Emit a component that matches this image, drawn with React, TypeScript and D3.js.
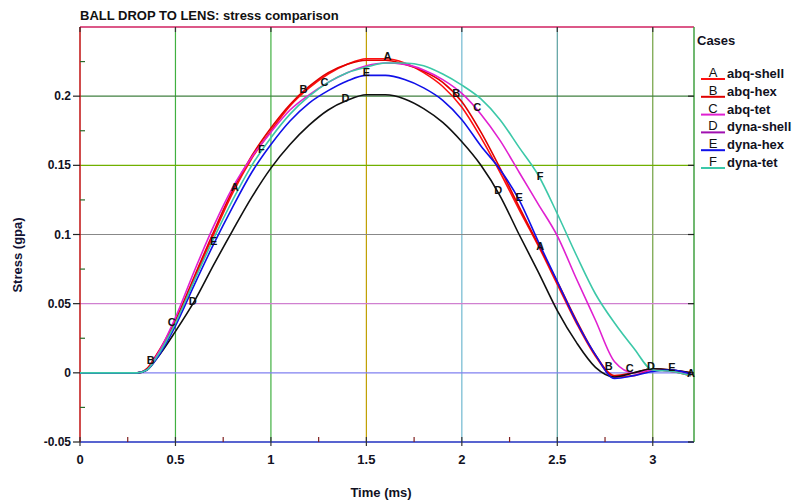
import React from "react";
import * as d3 from "d3";

const times = [0, 0.3, 0.35, 0.4, 0.5, 0.6, 0.7, 0.8, 0.9, 1.0, 1.1, 1.2, 1.3, 1.4, 1.5, 1.6, 1.7, 1.8, 1.9, 2.0, 2.1, 2.2, 2.3, 2.4, 2.5, 2.6, 2.7, 2.8, 2.9, 3.0, 3.1, 3.2];

const seriesNames = ["abq-shell", "abq-hex", "abq-tet", "dyna-shell", "dyna-hex", "dyna-tet"];
const seriesLetters = ["A", "B", "C", "D", "E", "F"];
const seriesColors = ["#ff1010", "#e00000", "#e020d0", "#101010", "#1010e8", "#3cc8a8"];
const legendColors = ["#ff1010", "#e00000", "#e020d0", "#a010b0", "#1010e8", "#3cc8a8"];

const valuesA = [0, 0, 0.002, 0.012, 0.036, 0.068, 0.1, 0.13, 0.155, 0.175, 0.193, 0.206, 0.216, 0.223, 0.227, 0.227, 0.224, 0.217, 0.207, 0.192, 0.17, 0.145, 0.118, 0.092, 0.064, 0.036, 0.012, -0.003, -0.002, 0.002, 0.001, -0.002];
const valuesB = [0, 0, 0.003, 0.013, 0.038, 0.07, 0.102, 0.132, 0.157, 0.177, 0.194, 0.207, 0.217, 0.223, 0.226, 0.226, 0.223, 0.218, 0.21, 0.196, 0.174, 0.148, 0.12, 0.093, 0.066, 0.038, 0.013, -0.002, 0, 0.003, 0.002, 0];
const valuesC = [0, 0, 0.002, 0.012, 0.04, 0.074, 0.106, 0.134, 0.156, 0.174, 0.19, 0.201, 0.21, 0.217, 0.222, 0.224, 0.223, 0.219, 0.212, 0.202, 0.187, 0.168, 0.145, 0.122, 0.099, 0.068, 0.038, 0.008, 0, 0.002, 0.001, -0.001];
const valuesD = [0, 0, 0.002, 0.01, 0.03, 0.052, 0.078, 0.103, 0.127, 0.148, 0.165, 0.179, 0.19, 0.197, 0.201, 0.201, 0.198, 0.191, 0.181, 0.167, 0.15, 0.128, 0.1, 0.073, 0.045, 0.022, 0.004, -0.003, 0, 0.003, 0.002, 0];
const valuesE = [0, 0, 0.002, 0.01, 0.034, 0.064, 0.093, 0.12, 0.145, 0.165, 0.182, 0.195, 0.204, 0.211, 0.215, 0.215, 0.212, 0.206, 0.197, 0.183, 0.164, 0.147, 0.125, 0.095, 0.066, 0.037, 0.013, -0.004, -0.002, 0.001, 0.002, -0.001];
const valuesF = [0, 0, 0.002, 0.011, 0.036, 0.067, 0.097, 0.125, 0.15, 0.17, 0.187, 0.2, 0.21, 0.217, 0.221, 0.224, 0.224, 0.222, 0.216, 0.208, 0.198, 0.183, 0.163, 0.143, 0.115, 0.085, 0.057, 0.036, 0.018, 0.002, 0.001, -0.002];
const seriesValues = [valuesA, valuesB, valuesC, valuesD, valuesE, valuesF];

const labelTimes = [
  [0.81, 1.61, 2.41, 3.2],
  [0.37, 1.17, 1.97, 2.77],
  [0.48, 1.28, 2.08, 2.88],
  [0.59, 1.39, 2.19, 2.99],
  [0.7, 1.5, 2.3, 3.1],
  [0.95, 2.41],
];

const xTicks = [0, 0.5, 1, 1.5, 2, 2.5, 3];
const xTickLabels = ["0", "0.5", "1", "1.5", "2", "2.5", "3"];
const yTicks = [-0.05, 0, 0.05, 0.1, 0.15, 0.2];
const yTickLabels = ["-0.05", "0", "0.05", "0.1", "0.15", "0.2"];
const xMinor = [0.25, 0.75, 1.25, 1.75, 2.25, 2.75];
const yMinor = [-0.025, 0.025, 0.075, 0.125, 0.175, 0.225];
const vGridColors = ["#40b040", "#40b040", "#c0a000", "#70b8d0", "#5aa0a0", "#70a040"];
const hGridColors = ["#8080f0", "#d080d0", "#888888", "#70b000", "#408040"];

const title = "BALL DROP TO LENS: stress comparison";
const xTitle = "Time (ms)";
const yTitle = "Stress (gpa)";
const legendTitle = "Cases";

export default function App() {
  const W = 801, H = 501;
  const left = 80, right = 694, top = 27, bottom = 442;
  const x = d3.scaleLinear().domain([0, 3.216]).range([left, right]);
  const y = d3.scaleLinear().domain([-0.05, 0.25]).range([bottom, top]);
  const interp = (vals: number[], t: number) => {
    const i = d3.bisectRight(times, t) - 1;
    const j = Math.min(i + 1, times.length - 1);
    if (i === j) return vals[i];
    const f = (t - times[i]) / (times[j] - times[i]);
    return vals[i] + f * (vals[j] - vals[i]);
  };
  const line = d3
    .line<number>()
    .x((_, i) => x(times[i]))
    .y((v) => y(v))
    .curve(d3.curveMonotoneX);
  const font = "'Liberation Sans', Arial, sans-serif";
  const narrow = "'Liberation Sans Narrow', 'Liberation Sans', Arial, sans-serif";
  return (
    <svg width={W} height={H} style={{ position: "fixed", left: 0, top: 0, background: "#fff" }}>
      <rect x={0} y={0} width={W} height={H} fill="#fff" />
      <text x={left} y={20} fontFamily={font} fontWeight="bold" fontSize={13} fill="#111">{title}</text>
      {xTicks.slice(1).map((t, i) => (
        <line key={"vg" + i} x1={x(t)} x2={x(t)} y1={top} y2={bottom} stroke={vGridColors[i]} strokeWidth={1.2} />
      ))}
      {yTicks.slice(1).map((v, i) => (
        <line key={"hg" + i} x1={left} x2={right} y1={y(v)} y2={y(v)} stroke={hGridColors[i]} strokeWidth={1.2} />
      ))}
      <line x1={left} x2={right} y1={top} y2={top} stroke="#d02060" strokeWidth={1.5} />
      <line x1={left} x2={right} y1={bottom} y2={bottom} stroke="#2030c0" strokeWidth={1.5} />
      <line x1={left} x2={left} y1={top} y2={bottom} stroke="#c01010" strokeWidth={1.5} />
      <line x1={right} x2={right} y1={top} y2={bottom} stroke="#40a040" strokeWidth={1.5} />
      {yTicks.map((v, i) => (
        <g key={"yt" + i}>
          <line x1={left - 7} x2={left} y1={y(v)} y2={y(v)} stroke="#222" strokeWidth={1.2} />
          <line x1={right - 6} x2={right} y1={y(v)} y2={y(v)} stroke="#222" strokeWidth={1.2} />
          <text x={left - 9} y={y(v) + 4} textAnchor="end" fontFamily={font} fontWeight="bold" fontSize={12} fill="#112">{yTickLabels[i]}</text>
        </g>
      ))}
      {yMinor.map((v, i) => (
        <line key={"ym" + i} x1={left} x2={left + 5} y1={y(v)} y2={y(v)} stroke="#2a6a2a" strokeWidth={1.2} />
      ))}
      {xTicks.map((t, i) => (
        <g key={"xt" + i}>
          <line x1={x(t)} x2={x(t)} y1={bottom - 5} y2={bottom + 4} stroke="#333" strokeWidth={1.2} />
          <line x1={x(t)} x2={x(t)} y1={top} y2={top + 5} stroke="#333" strokeWidth={1.2} />
          <text x={x(t)} y={464} textAnchor="middle" fontFamily={narrow} fontWeight="bold" fontSize={13} fill="#112">{xTickLabels[i]}</text>
        </g>
      ))}
      {xMinor.map((t, i) => (
        <line key={"xm" + i} x1={x(t)} x2={x(t)} y1={bottom - 5} y2={bottom} stroke="#802020" strokeWidth={1.2} />
      ))}
      <text x={381} y={497} textAnchor="middle" fontFamily={narrow} fontWeight="bold" fontSize={13} fill="#112">{xTitle}</text>
      <text transform={`translate(22,255) rotate(-90)`} textAnchor="middle" fontFamily={font} fontWeight="bold" fontSize={13} fill="#113">{yTitle}</text>
      {seriesValues.map((vals, s) => (
        <path key={"c" + s} d={line(vals) || ""} fill="none" stroke={seriesColors[s]} strokeWidth={1.6} />
      ))}
      {labelTimes.map((ts, s) =>
        ts.map((t, k) => (
          <text key={"lb" + s + "-" + k} x={x(t)} y={y(interp(seriesValues[s], t)) + 1} textAnchor="middle" fontFamily={font} fontWeight="bold" fontSize={11} fill="#111">{seriesLetters[s]}</text>
        ))
      )}
      <text x={697} y={45} fontFamily={font} fontWeight="bold" fontSize={13} fill="#112">{legendTitle}</text>
      {seriesNames.map((n, s) => {
        const ly = 78 + s * 17.8;
        return (
          <g key={"lg" + s}>
            <line x1={701} x2={725} y1={ly + 1} y2={ly + 1} stroke={legendColors[s]} strokeWidth={2} />
            <text x={713} y={ly - 1} textAnchor="middle" fontFamily={font} fontSize={13} fill="#111">{seriesLetters[s]}</text>
            <text x={727} y={ly} fontFamily={font} fontWeight="bold" fontSize={13} fill="#112">{n}</text>
          </g>
        );
      })}
    </svg>
  );
}
